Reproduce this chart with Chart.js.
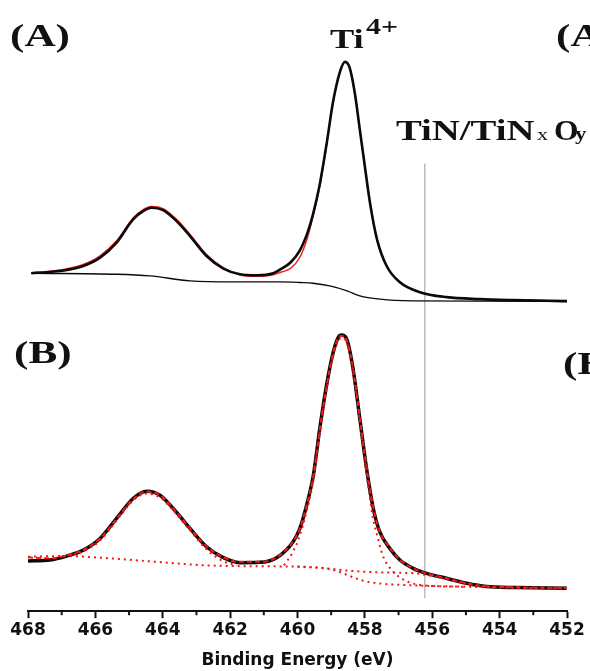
<!DOCTYPE html>
<html><head><meta charset="utf-8">
<script src="https://cdn.jsdelivr.net/npm/chart.js@4.4.1/dist/chart.umd.min.js"></script>
<style>html,body{margin:0;padding:0;background:#fff;}canvas{display:block;}</style>
</head><body>
<canvas id="c" width="590" height="671"></canvas>
<script>
// ---- Data (binding energy in eV, intensity in a.u.) ----
// Panel (A): experimental spectrum
const aExpE = [467.9,467.35,466.85,466.36,465.86,465.37,464.88,464.58,464.33,463.99,463.59,463.19,462.70,462.20,461.71,461.21,460.72,460.5,460.2,459.93,459.7,459.54,459.34,459.13,458.95,458.74,458.59,458.45,458.30,458.15,458.0,457.85,457.64,457.35,456.96,456.37,455.57,454.59,453.61,452.0];
const aExpI = [339,340.3,342.3,346.3,354.7,369.7,393,401.3,404.7,402.3,391.3,376.3,356.3,343.7,338,337,339,343,350,362,380,398,428,470,510,541,551,545,520,483,446,410,373,346,330,320,315,313,312,311];
// Panel (A): fitted envelope (red)
const aFitE = [467.9,467.35,466.85,466.36,465.86,465.37,464.88,464.58,464.33,463.99,463.59,463.19,462.70,462.20,461.71,461.21,460.72,460.5,460.2,459.93,459.7,459.54,459.34,459.13,458.95,458.74,458.59,458.45,458.30,458.15,458.0,457.85,457.64,457.35,456.96,456.37,455.57,454.59,453.61,452.0];
const aFitI = [339.5,341,343.5,347.8,356.5,371.5,394.5,402.8,406,403.8,393,378,357.8,344.5,337.5,336,337.5,340,344,355,375,396,426,469,509,541,551.5,545,520,483,446,410,373,346,330,320,315,313,312,311];
// Panel (A): background line
const aBgE = [467.9,465.37,464.38,463.19,461.9,460.52,459.93,459.54,459.04,458.53,458.15,457.55,456.58,452.0];
const aBgI = [339,338,336.3,331.3,330.3,330.3,329.7,329,326.3,321.3,316.3,313,311.3,310.7];

// Panel (B): experimental spectrum
const bExpE = [468.0,467.35,466.85,466.36,465.86,465.37,464.88,464.48,464.08,463.69,463.19,462.70,462.20,461.71,461.12,460.62,460.13,459.93,459.73,459.53,459.34,459.14,458.94,458.79,458.69,458.54,458.35,458.15,457.95,457.75,457.56,457.26,456.96,456.57,456.17,455.58,454.98,454.39,453.50,452.01];
const bExpI = [50.3,51.3,55.3,61.3,73,93,113,120.3,116.3,103,83,64.7,53.7,48.7,49,53.7,69.7,83,106.3,136.3,183,226.3,259.7,274.7,277,273,243,193,143,103,79.7,63,51.3,43,38,33,28,24.7,23.7,23];
// Panel (B): fitted envelope (red dashed)
const bFitE = [468.0,467.35,466.85,466.36,465.86,465.37,464.88,464.48,464.08,463.69,463.19,462.70,462.20,461.71,461.12,460.62,460.13,459.93,459.73,459.53,459.34,459.14,458.94,458.79,458.69,458.54,458.35,458.15,457.95,457.75,457.56,457.26,456.96,456.57,456.17,455.58,454.98,454.39,453.50,452.01];
const bFitI = [54,53,56,61.5,73,92.5,112.5,120,116.5,103,83,65,54,49.5,49.5,54,70,83,106,136,182,225,259,274,276,272,243,194,144,104,80,63.5,51.5,43,38,33,28,25,24,23.5];
// Panel (B): Shirley background (red dotted)
const bBgE = [468.0,466.85,465.86,464.88,463.88,462.9,461.91,460.9,459.93,459.34,458.9,458.5,458.1,457.6,457.0,456.2,455.0,453.5,452.0];
const bBgI = [54.7,55.3,53.7,51.3,48.7,46.3,45.3,45,44.7,43.5,41,36,31,28,26.5,25.5,24.5,23.5,23];
// Panel (B): TiN / TiNxOy component (red dotted)
const bTinE = [460.0,459.3,458.6,458.0,457.0,456.5,456.2,455.7,455.2,454.7,454.2,453.5,452.0];
const bTinI = [44.7,43.5,41,39.5,38.5,38,36.5,33,29,26,24.5,23.5,23];
// Panel (B): Ti4+ 2p3/2 component (red dotted)
const bTi3E = [460.4,460.13,459.93,459.73,459.53,459.34,459.14,458.94,458.79,458.69,458.54,458.35,458.15,457.95,457.76,457.61,457.47,457.17,456.75,456.28,455.0];
const bTi3I = [46,60,76,100,131,178,222,256,271,274,270,240,190,138,93,73,56,40,30,26,24.5];
// Panel (B): Ti4+ 2p1/2 component (red dotted)
const bTi1E = [467.0,466.36,465.86,465.37,464.88,464.48,464.08,463.69,463.19,462.70,462.20,461.8];
const bTi1I = [55,60,71,91,111,118,114,101,81,62,50,46];
// Reference line at the TiN/TiNxOy position
const refLineE = [456.22,456.22];
const refLineI = [13,449];

// Axis ticks
const xTicks = [468,466,464,462,460,458,456,454,452];
const minorTicks = [467,465,463,461,459,457,455,453];

const pts = (E, I) => E.map((e, i) => ({x: e, y: I[i]}));

const RED = '#f01818';
const BLACK = '#0a0a0a';

const base = {pointRadius: 0, fill: false, cubicInterpolationMode: 'monotone', tension: 0.4};

const textPlugin = {
  id: 'texts',
  afterDraw(chart) {
    const ctx = chart.ctx;
    const s = 1.35;
    function t(text, x, y, font, sx) {
      ctx.save();
      ctx.font = font;
      ctx.fillStyle = '#111';
      ctx.textBaseline = 'alphabetic';
      ctx.translate(x, y);
      ctx.scale(sx, 1);
      ctx.fillText(text, 0, 0);
      ctx.restore();
    }
    const serif = '"Liberation Serif","Times New Roman",serif';
    t('(A)', 10, 46, 'bold 32px ' + serif, s);
    t('(A)', 556, 46, 'bold 32px ' + serif, s);
    t('(B)', 14, 363, 'bold 32px ' + serif, s);
    t('(B)', 563, 374, 'bold 32px ' + serif, s);
    t('Ti', 330, 48, 'bold 28px ' + serif, 1.3);
    t('4+', 366, 34, 'bold 23px ' + serif, 1.3);
    t('TiN/TiN', 396, 140, 'bold 30px ' + serif, 1.29);
    t('x', 537, 140, '17px ' + serif, 1.3);
    t('O', 554, 140, 'bold 30px ' + serif, 1.05);
    t('y', 575, 140, 'bold 19px ' + serif, 1.2);

    // minor ticks on the energy axis
    const xs = chart.scales.x;
    const yb = chart.chartArea.bottom;
    ctx.save();
    ctx.strokeStyle = '#111';
    ctx.lineWidth = 2;
    minorTicks.forEach(v => {
      const px = xs.getPixelForValue(v);
      ctx.beginPath();
      ctx.moveTo(px, yb);
      ctx.lineTo(px, yb + 4);
      ctx.stroke();
    });
    ctx.restore();
  }
};

new Chart(document.getElementById('c'), {
  type: 'line',
  data: {
    datasets: [
      Object.assign({}, base, {label: 'B fit', data: pts(bFitE, bFitI), borderColor: RED, borderWidth: 2, borderDash: [5, 3], order: 0}),
      Object.assign({}, base, {label: 'B Ti4+ 2p3/2', data: pts(bTi3E, bTi3I), borderColor: RED, borderWidth: 2, borderDash: [2, 4], order: 1}),
      Object.assign({}, base, {label: 'B Ti4+ 2p1/2', data: pts(bTi1E, bTi1I), borderColor: RED, borderWidth: 2, borderDash: [2, 4], order: 1}),
      Object.assign({}, base, {label: 'B TiN', data: pts(bTinE, bTinI), borderColor: RED, borderWidth: 2, borderDash: [2, 4], order: 1}),
      Object.assign({}, base, {label: 'B background', data: pts(bBgE, bBgI), borderColor: RED, borderWidth: 2, borderDash: [2, 4], order: 1}),
      Object.assign({}, base, {label: 'B experimental', data: pts(bExpE, bExpI), borderColor: BLACK, borderWidth: 3.5, order: 2}),
      Object.assign({}, base, {label: 'A experimental', data: pts(aExpE, aExpI), borderColor: BLACK, borderWidth: 2.6, order: 3}),
      Object.assign({}, base, {label: 'A fit', data: pts(aFitE, aFitI), borderColor: RED, borderWidth: 1.4, order: 4}),
      Object.assign({}, base, {label: 'A background', data: pts(aBgE, aBgI), borderColor: BLACK, borderWidth: 1.4, order: 3}),
      {label: 'TiN line', data: pts(refLineE, refLineI), borderColor: '#9a9a9a', borderWidth: 1, pointRadius: 0, tension: 0, order: 5}
    ]
  },
  options: {
    responsive: false,
    animation: false,
    events: [],
    layout: {padding: {left: 28, right: 23, top: 13, bottom: 0}},
    plugins: {legend: {display: false}, tooltip: {enabled: false}},
    scales: {
      x: {
        type: 'linear',
        min: 452, max: 468,
        reverse: true,
        border: {display: true, color: '#111', width: 2},
        grid: {
          drawOnChartArea: false,
          drawTicks: true,
          tickLength: 7,
          tickWidth: 2,
          tickColor: ctx => (ctx.tick && ctx.tick.value % 2 === 0) ? '#111' : 'rgba(0,0,0,0)'
        },
        afterBuildTicks: scale => { scale.ticks = xTicks.map(v => ({value: v})); },
        ticks: {
          autoSkip: false,
          maxRotation: 0,
          padding: 2,
          color: '#111',
          font: {family: '"DejaVu Sans", sans-serif', weight: 'bold', size: 17},
          callback: v => String(v)
        },
        title: {
          display: true,
          text: 'Binding Energy (eV)',
          color: '#111',
          padding: {top: 8, bottom: 0},
          font: {family: '"DejaVu Sans", sans-serif', weight: 'bold', size: 17}
        }
      },
      y: {
        display: false,
        min: 0, max: 600
      }
    }
  },
  plugins: [textPlugin]
});
</script>
</body></html>
